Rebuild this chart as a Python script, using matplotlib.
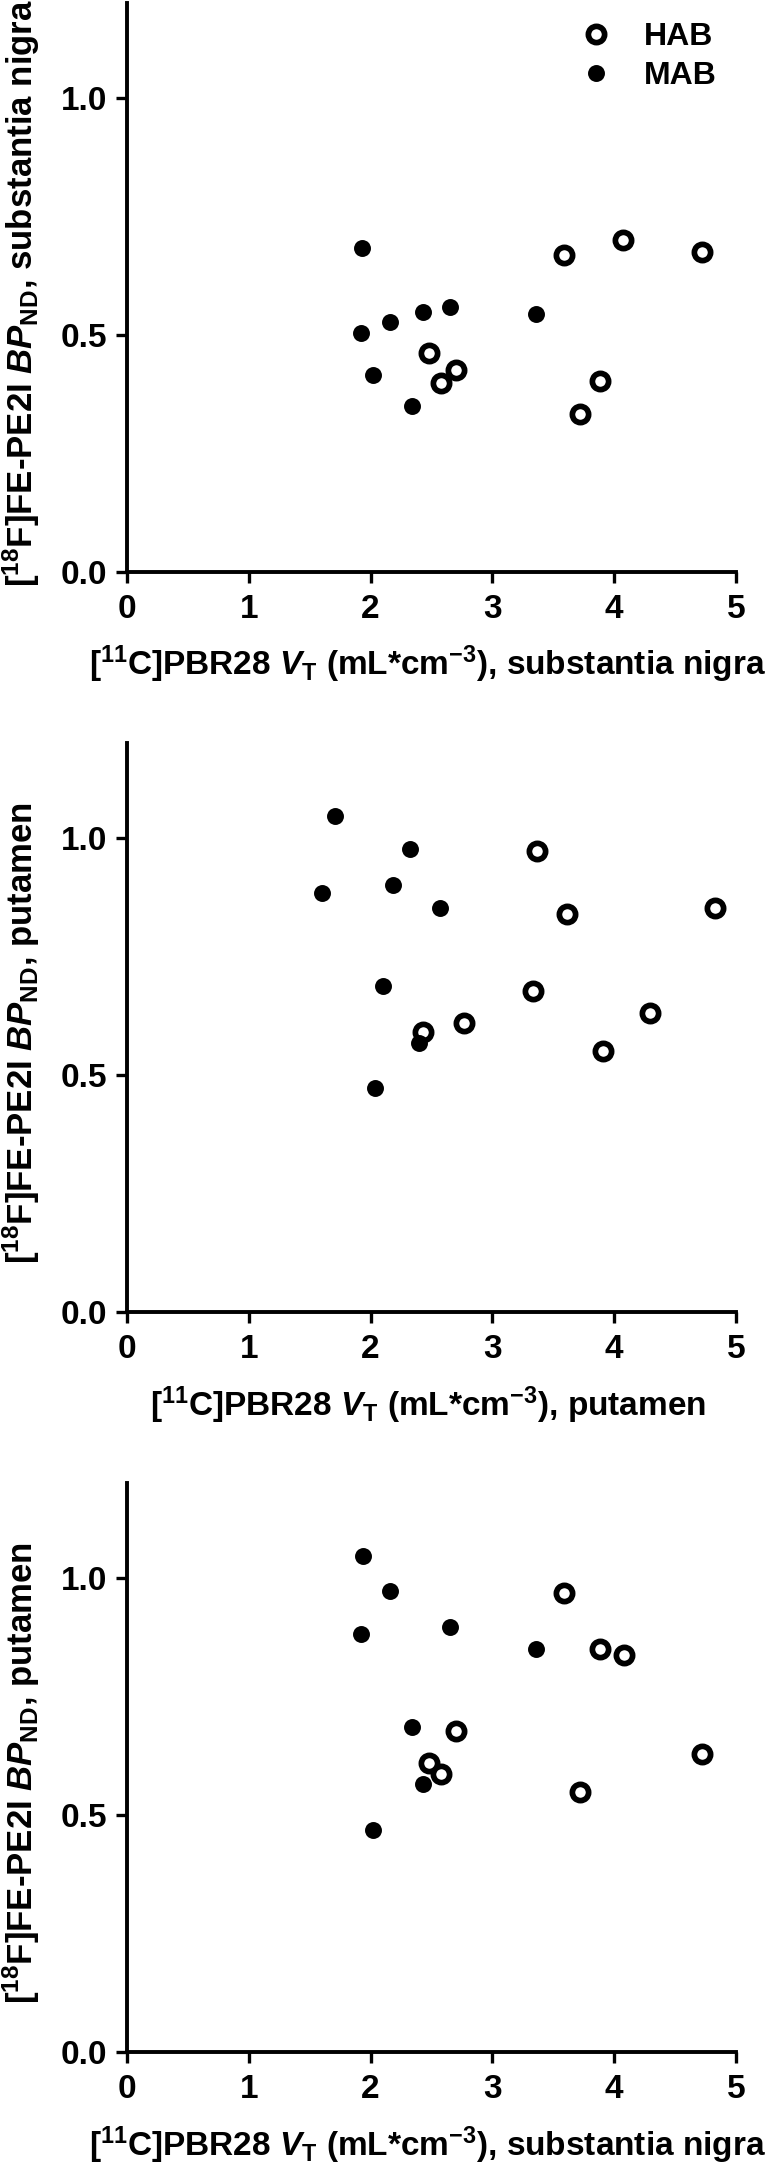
import matplotlib
matplotlib.use("Agg")
import matplotlib.pyplot as plt

plt.rcParams['font.family'] = ['Liberation Sans', 'DejaVu Sans']
plt.rcParams['font.weight'] = 'bold'
plt.rcParams['mathtext.fontset'] = 'custom'
plt.rcParams['mathtext.rm'] = 'Liberation Sans:bold'
plt.rcParams['mathtext.bf'] = 'Liberation Sans:bold'
plt.rcParams['mathtext.it'] = 'Liberation Sans:italic:bold'

# ---- data ----
# panel A: substantia nigra BPND vs substantia nigra VT
a_x_hab = [2.48, 2.58, 2.70, 3.59, 4.07, 4.72, 3.72, 3.88]
a_y_hab = [0.462, 0.398, 0.427, 0.668, 0.700, 0.675, 0.333, 0.403]
a_x_mab = [1.93, 1.92, 2.16, 2.02, 2.34, 2.43, 2.65, 3.36]
a_y_mab = [0.684, 0.505, 0.528, 0.415, 0.351, 0.549, 0.558, 0.545]

# panel B: putamen BPND vs putamen VT
b_x_hab = [3.37, 3.61, 4.83, 3.33, 2.77, 2.43, 4.29, 3.91]
b_y_hab = [0.972, 0.840, 0.853, 0.677, 0.610, 0.590, 0.630, 0.551]
b_x_mab = [1.71, 2.32, 1.60, 2.18, 2.57, 2.10, 2.40, 2.04]
b_y_mab = [1.047, 0.976, 0.884, 0.901, 0.853, 0.687, 0.568, 0.472]

# panel C: putamen BPND vs substantia nigra VT
c_x_hab = [3.59, 3.88, 4.08, 2.70, 2.48, 2.58, 3.72, 4.72]
c_y_hab = [0.969, 0.850, 0.838, 0.676, 0.609, 0.587, 0.548, 0.628]
c_x_mab = [1.94, 2.16, 1.92, 2.65, 3.36, 2.34, 2.43, 2.02]
c_y_mab = [1.045, 0.973, 0.881, 0.897, 0.850, 0.685, 0.565, 0.469]

x_ticks = [0, 1, 2, 3, 4, 5]
y_ticks = [0.0, 0.5, 1.0]

xlab_sn = r'[$^{11}$C]PBR28 $V_{\mathrm{T}}$ (mL*cm$^{-3}$), substantia nigra'
xlab_put = r'[$^{11}$C]PBR28 $V_{\mathrm{T}}$ (mL*cm$^{-3}$), putamen'
ylab_sn = r'[$^{18}$F]FE-PE2I $BP_{\mathrm{ND}}$, substantia nigra'
ylab_put = r'[$^{18}$F]FE-PE2I $BP_{\mathrm{ND}}$, putamen'

W, H = 767, 2165
LEFT, RIGHT = 127, 736
AX_H = 569

fig = plt.figure(figsize=(W / 100, H / 100), dpi=100)


def make_ax(bottom_px):
    return fig.add_axes([LEFT / W, 1 - bottom_px / H, (RIGHT - LEFT) / W, AX_H / H])


def style(ax, xlab, ylab):
    ax.set_xlim(0, 5)
    ax.set_ylim(0, 1.2)
    ax.set_xticks(x_ticks)
    ax.set_yticks(y_ticks)
    ax.set_yticklabels([f'{v:.1f}' for v in y_ticks])
    ax.spines['top'].set_visible(False)
    ax.spines['right'].set_visible(False)
    for s in ['left', 'bottom']:
        ax.spines[s].set_linewidth(2.8)
    ax.tick_params(direction='out', length=8, width=2.4, labelsize=24)
    ax.tick_params(axis='x', pad=8)
    ax.tick_params(axis='y', pad=6)
    for lab in ax.get_xticklabels() + ax.get_yticklabels():
        lab.set_fontweight('bold')
    ax.set_xlabel(xlab, fontsize=24, fontweight='bold')
    ax.set_ylabel(ylab, fontsize=25, fontweight='bold')
    ax.xaxis.set_label_coords(0.494, -72 / AX_H)
    ax.yaxis.set_label_coords((42 - LEFT) / (RIGHT - LEFT), 0.49)


def scatter(ax, xh, yh, xm, ym):
    ax.plot(xh, yh, 'o', ms=11.7, mfc='white', mec='black', mew=4.1, ls='none',
            label='HAB', clip_on=False)
    ax.plot(xm, ym, 'o', ms=12.2, mfc='black', mec='black', mew=0, ls='none',
            label='MAB', clip_on=False)


ax1 = make_ax(572)
scatter(ax1, a_x_hab, a_y_hab, a_x_mab, a_y_mab)
style(ax1, xlab_sn, ylab_sn)
leg = ax1.legend(loc='upper right', frameon=False, fontsize=23,
                 handlelength=1.0, handletextpad=1.0, labelspacing=0.27,
                 borderpad=0.4, borderaxespad=0.2)
for t in leg.get_texts():
    t.set_fontweight('bold')

ax2 = make_ax(1312)
scatter(ax2, b_x_hab, b_y_hab, b_x_mab, b_y_mab)
style(ax2, xlab_put, ylab_put)

ax3 = make_ax(2052)
scatter(ax3, c_x_hab, c_y_hab, c_x_mab, c_y_mab)
style(ax3, xlab_sn, ylab_put)

fig.savefig('out.png', dpi=100, facecolor='white')
